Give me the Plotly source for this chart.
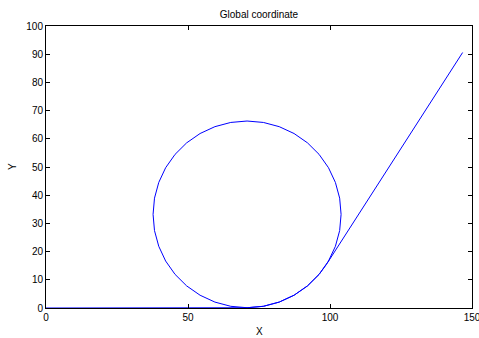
import plotly.graph_objects as go

title_text = "Global coordinate"
x_label = "X"
y_label = "Y"
x_ticks = [0, 50, 100, 150]
y_ticks = [0, 10, 20, 30, 40, 50, 60, 70, 80, 90, 100]

# trajectory: straight run, one full loop, then exit line
path_x = [0.0, 70.80,
          76.55, 82.12, 87.35, 92.08, 96.16, 99.47, 101.90, 103.40, 103.90,
          103.40, 101.90, 99.47, 96.16, 92.08, 87.35, 82.12, 76.55, 70.80,
          65.05, 59.48, 54.25, 49.52, 45.44, 42.13, 39.70, 38.20, 37.70,
          38.20, 39.70, 42.13, 45.44, 49.52, 54.25, 59.48, 65.05, 70.80,
          76.55, 82.12, 87.35, 92.08, 96.16, 98.70, 146.7]
path_y = [0.0, 0.10,
          0.60, 2.10, 4.53, 7.84, 11.92, 16.65, 21.88, 27.45, 33.20,
          38.95, 44.52, 49.75, 54.48, 58.56, 61.87, 64.30, 65.80, 66.30,
          65.80, 64.30, 61.87, 58.56, 54.48, 49.75, 44.52, 38.95, 33.20,
          27.45, 21.88, 16.65, 11.92, 7.84, 4.53, 2.10, 0.60, 0.10,
          0.60, 2.10, 4.53, 7.84, 11.92, 15.39, 90.6]

FONT = "Liberation Sans, Arial"
L, R, T, B = 46, 7, 26, 30
W, H = 479, 338

fig = go.Figure()
fig.add_trace(go.Scatter(x=path_x, y=path_y, mode="lines",
                         line=dict(color="#0000ff", width=1), showlegend=False,
                         hoverinfo="skip"))

axis_common = dict(showgrid=False, zeroline=False, showline=True, linecolor="#000000",
                   linewidth=1, mirror="ticks", ticks="inside", ticklen=4, automargin=False,
                   ticklabeloverflow="allow",
                   tickcolor="#000000", tickfont=dict(family=FONT, size=10, color="#000000"))

fig.update_layout(
    width=W, height=H,
    margin=dict(l=L, r=R, t=T, b=B),
    paper_bgcolor="#ffffff", plot_bgcolor="#ffffff",
    title=dict(text=title_text, x=(L + W - R) / 2 / W, xanchor="center", y=1 - 14 / H, yanchor="middle",
               font=dict(family=FONT, size=10, color="#000000")),
    xaxis=dict(range=[0, 150], tickvals=x_ticks, ticktext=[str(v) for v in x_ticks], **axis_common),
    yaxis=dict(range=[0, 100], tickvals=y_ticks, ticktext=[str(v) for v in y_ticks], **axis_common),
    annotations=[
        dict(text=x_label, xref="paper", yref="paper", x=0.5, y=-23 / (H - T - B),
             xanchor="center", yanchor="middle", showarrow=False,
             font=dict(family=FONT, size=10, color="#000000")),
        dict(text=y_label, xref="paper", yref="paper", x=-(L - 12) / (W - L - R), y=0.5,
             xanchor="center", yanchor="middle", showarrow=False, textangle=-90,
             font=dict(family=FONT, size=10, color="#000000")),
    ],
)

fig.write_html("out.html", config={"displayModeBar": False},
               post_script="document.body.style.margin='0';document.body.style.overflow='hidden';")
